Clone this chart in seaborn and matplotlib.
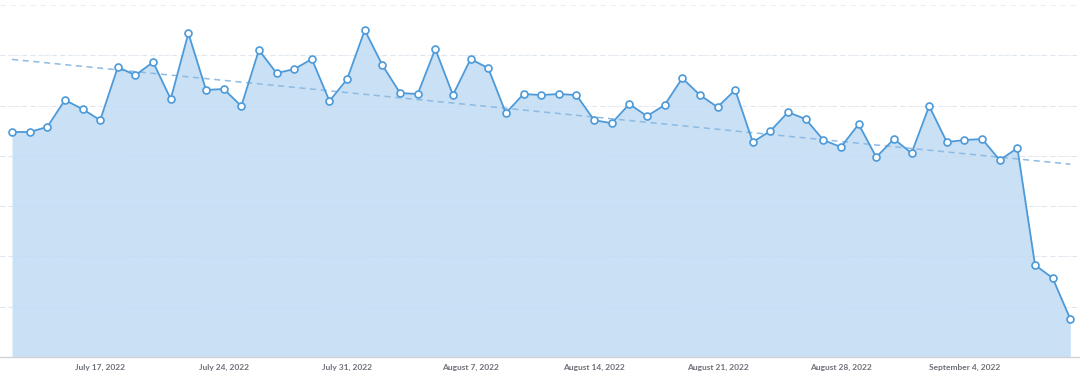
import numpy as np
import pandas as pd
import seaborn as sns
import matplotlib.pyplot as plt

# daily values (arbitrary units, gridline every 20)
start_date = "2022-07-12"
end_date = "2022-09-10"
values = [89.5, 89.5, 91.5, 102.2, 98.6, 94.2, 115.3, 112.1, 117.3, 102.6,
          128.8, 106.2, 106.6, 99.8, 122.1, 112.9, 114.5, 118.5, 101.8, 110.5,
          130.0, 116.1, 105.0, 104.6, 122.5, 104.2, 118.5, 114.9, 97.0, 104.6,
          104.2, 104.6, 104.2, 94.2, 93.0, 100.6, 95.8, 100.2, 110.9, 104.2,
          99.4, 106.2, 85.5, 89.9, 97.4, 94.6, 86.3, 83.5, 92.6, 79.5,
          86.7, 81.1, 99.8, 85.5, 86.3, 86.7, 78.3, 83.1, 36.6, 31.4,
          15.1]
tick_dates = ["2022-07-17", "2022-07-24", "2022-07-31", "2022-08-07",
              "2022-08-14", "2022-08-21", "2022-08-28", "2022-09-04"]

df = pd.DataFrame({"date": pd.date_range(start_date, end_date), "value": values})

# linear trend line
days = np.arange(len(df))
slope, intercept = np.polyfit(days, df["value"], 1)
df["trend"] = intercept + slope * days

sns.set_theme(style="white")
plt.rcParams["font.family"] = ["Lato", "DejaVu Sans"]

line_col = "#4d9ad9"
fill_col = "#c9e0f5"

fig = plt.figure(figsize=(10.8, 3.82), dpi=100)
ax = fig.add_axes([0, 0.0654, 1, 0.9215])

ax.fill_between(df["date"], df["value"], 0, color=fill_col, lw=0, zorder=1)
# faint gridlines show through the fill in the original
for yv in np.arange(20, 121, 20):
    ax.axhline(yv, color="#bfd6ec", lw=0.6, linestyle=(0, (5, 4)), zorder=1.5, alpha=0.5)
sns.lineplot(data=df, x="date", y="trend", ax=ax, color="#8dbbe3",
             lw=1.1, linestyle=(0, (4, 3)), zorder=2)
sns.lineplot(data=df, x="date", y="value", ax=ax, color=line_col, lw=1.3,
             marker="o", markersize=5, markerfacecolor="white",
             markeredgecolor=line_col, markeredgewidth=1.2, zorder=3)

ax.set_ylim(0, 140)
ax.set_yticks(np.arange(20, 141, 20))
ax.yaxis.grid(True, color="#efefef", lw=0.8, linestyle=(0, (5, 4)))
ax.set_yticklabels([])
ax.tick_params(axis="y", length=0)

ax.set_xlim(df["date"].iloc[0] - pd.Timedelta(days=0.68),
            df["date"].iloc[-1] + pd.Timedelta(days=0.55))
ticks = pd.to_datetime(tick_dates)
ax.set_xticks(ticks)
ax.set_xticklabels([d.strftime("%B ") + str(d.day) + d.strftime(", %Y") for d in ticks],
                   fontsize=6, fontweight="bold", color="#6c7078")
ax.tick_params(axis="x", length=0, pad=5)

ax.set_xlabel("")
ax.set_ylabel("")
for s in ["top", "left", "right"]:
    ax.spines[s].set_visible(False)
ax.spines["bottom"].set_color("#cfd3d8")
ax.spines["bottom"].set_linewidth(1)

fig.savefig("out.png", dpi=100)
